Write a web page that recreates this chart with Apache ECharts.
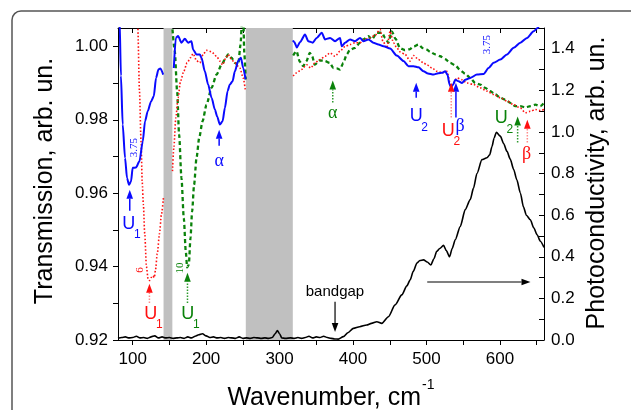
<!DOCTYPE html>
<html><head><meta charset="utf-8">
<script src="https://cdn.jsdelivr.net/npm/echarts@6/dist/echarts.min.js"></script>
<style>html,body{margin:0;padding:0;background:#fff}#c{width:631px;height:410px}</style>
</head><body><div id="c"></div>
<script>
// ---------- axis ticks / labels ----------
const xLabelVals = [100, 200, 300, 400, 500, 600];
const xTickVals = [100, 150, 200, 250, 300, 350, 400, 450, 500, 550, 600, 650];
const tLabelVals = [0.92, 0.94, 0.96, 0.98, 1.00];
const tTickVals = [0.92, 0.93, 0.94, 0.95, 0.96, 0.97, 0.98, 0.99, 1.00];
const pLabelVals = [0.0, 0.2, 0.4, 0.6, 0.8, 1.0, 1.2, 1.4];
const pTickVals = [0.0, 0.1, 0.2, 0.3, 0.4, 0.5, 0.6, 0.7, 0.8, 0.9, 1.0, 1.1, 1.2, 1.3, 1.4];

// ---------- excluded (gray) bands, cm-1 ----------
const grayBands = [[142, 154], [254, 318]];

// ---------- transmission, sample "3.75" (blue solid) ----------
const blueA = [[80,1.02],[82,1.008],[84,0.992],[86.4,0.9787],[89.6,0.9696],[92.3,0.9641],[95,0.9623],[97.7,0.9632],[100,0.9669],[104.5,0.967],[109.2,0.9687],[113.7,0.9741],[116.8,0.9796],[120.5,0.9823],[125,0.985],[128.7,0.9864],[131.8,0.9914],[135.1,0.9937],[137.8,0.994],[141.5,0.9923]];
const blueB = [[156,0.9941],[158.7,1.0023],[161.8,1.0028],[166.4,1.001],[171,1.0021],[175.5,1.001],[180,1.0014],[182.3,0.9991],[186.9,0.9978],[191.4,0.9978],[193.7,0.9969],[198.2,0.9932],[202.7,0.9896],[207.4,0.986],[211.9,0.9828],[215,0.9809],[218.7,0.9787],[222.4,0.9796],[225.5,0.9832],[229.2,0.9878],[232.3,0.9896],[236,0.9905],[239.1,0.9932],[243.6,0.996],[247.3,0.9969],[250.5,0.9941],[253.7,0.991]];
const blueC = [[318,1.0016],[320,1.0012],[323.5,0.9997],[328,1.0012],[334.6,1.0032],[339.1,1.0014],[345.1,1.001],[350.5,1.0023],[357.4,1.0037],[361.9,1.0019],[368.7,1.0023],[375.5,1.0014],[382.3,1.0023],[384.6,1.0],[389.2,1.001],[396,1.0019],[402.8,1.0014],[409.6,1.0023],[414.1,1.0014],[420.9,1.0019],[427.7,1.001],[434.6,1.0005],[441.4,1.0],[450.5,0.9994],[459.6,0.9975],[468.7,0.996],[475.5,0.9946],[482.3,0.9946],[489.1,0.9943],[495.9,0.9932],[502,0.9926],[509.6,0.9923],[516,0.9927],[521,0.9928],[525.5,0.9932],[528.6,0.9923],[531.4,0.9896],[533.5,0.9889],[536,0.9895],[539.2,0.9909],[543.7,0.9905],[548.3,0.99],[552.8,0.9909],[559.6,0.9914],[568.7,0.9923],[577.8,0.9925],[584.6,0.9941],[591.4,0.9955],[600.5,0.9964],[609.6,0.9978],[618.7,0.9996],[627.8,1.001],[636.9,1.0023],[645.9,1.0041],[651.4,1.005],[656,1.0065],[660,1.007]];

// ---------- transmission, sample "6" (red dotted) ----------
const redA = [[104,1.02],[107,1.005],[109.2,0.988],[111.4,0.974],[113,0.963],[114.5,0.957],[116.4,0.949],[118.7,0.94],[121,0.9365],[123,0.9362],[125,0.937],[127.5,0.9375],[129.5,0.937],[131,0.939],[133.5,0.9435],[136.5,0.949],[139,0.954],[142,0.959]];
const redB = [[154.2,0.966],[156,0.9723],[158.7,0.9805],[161.8,0.986],[165.1,0.9905],[169.6,0.9932],[174.1,0.9955],[178.7,0.9969],[182.3,0.998],[186.9,0.9961],[191.4,0.9955],[195.9,0.9978],[200.5,0.9989],[207.4,0.9985],[214.2,0.9973],[218.7,0.996],[222.4,0.995],[226.9,0.9969],[230,0.9978],[234.6,0.9964],[239.1,0.9955],[245.9,0.9941],[250.5,0.9914],[253.5,0.9878]];
const redC = [[318.5,0.9919],[323.3,0.9928],[330,0.9937],[336.9,0.995],[342.4,0.9941],[348.2,0.9955],[355.1,0.9964],[361.9,0.9973],[368.7,0.9982],[375.5,0.9973],[382.3,0.9987],[389.2,1.0],[396,1.0005],[402.8,1.001],[409.6,1.001],[416.4,1.0019],[423.2,1.0023],[430,1.003],[436.9,1.0046],[440.6,1.0014],[446,0.9996],[450.5,1.0041],[455,1.001],[459.6,0.9996],[464.1,0.9985],[470.9,0.9978],[477.8,0.996],[482.3,0.9975],[489.1,0.9964],[495.9,0.9955],[500.5,0.995],[507.4,0.9941],[514.2,0.9932],[521,0.9928],[527.8,0.9932],[533.2,0.9891],[536.8,0.99],[541.5,0.9914],[548.3,0.9909],[555.1,0.99],[564.1,0.9896],[573.2,0.9887],[582.3,0.9878],[591.4,0.9869],[600.5,0.986],[609.6,0.9851],[618.7,0.9841],[627.8,0.9832],[634.6,0.9819],[641.4,0.9823],[648.2,0.9828],[655,0.9825],[660,0.9828]];

// ---------- transmission, sample "10" (green dashed) ----------
const greenB = [[154.2,1.0046],[157.3,0.9987],[160.5,0.9878],[163.2,0.976],[166.4,0.9641],[169.6,0.9532],[172.3,0.9441],[174.1,0.9398],[176.4,0.9405],[178.7,0.9478],[180.9,0.955],[183.6,0.9623],[186.9,0.9696],[190.5,0.975],[195.1,0.9796],[200.5,0.9841],[207.4,0.9887],[214.2,0.9923],[221,0.995],[226.9,0.9969],[230,0.9978],[234.6,0.9969],[239.1,0.9955],[243.6,0.995],[246.9,1.0005],[248.5,1.006],[250.5,1.008],[252,0.998],[253.8,0.991]];
const greenC = [[318.5,0.9975],[323,0.9987],[327.5,0.9958],[332.1,0.9946],[336.6,0.996],[341.1,0.9982],[344.4,0.9973],[347.9,0.995],[354.7,0.9962],[361.6,0.996],[368.4,0.9955],[373.2,0.9941],[378,0.994],[382.3,0.9937],[386.8,0.9955],[391.4,0.9978],[396,0.9991],[402.8,0.9996],[409.6,1.001],[414.1,1.0019],[420.9,1.0028],[425.6,1.0019],[432.4,1.0037],[439.2,1.0037],[443.7,1.0023],[448,1.001],[452.8,1.0041],[458,1.002],[464,0.9995],[470,0.999],[477,0.9992],[483,1.0],[489,1.0005],[495,0.9995],[500.5,0.9991],[505,0.9985],[511.9,0.9978],[518.7,0.9973],[525.5,0.9965],[532.3,0.9955],[539.2,0.9948],[546,0.9935],[552.8,0.9925],[559.6,0.9914],[566.4,0.99],[573.2,0.9896],[580,0.9887],[586.9,0.9878],[593.7,0.9869],[600.5,0.986],[607.3,0.9855],[614.1,0.9846],[620.9,0.9837],[627.8,0.9837],[634.6,0.9834],[641.4,0.9837],[648.2,0.9841],[655,0.9837],[660,0.9846]];

// ---------- photoconductivity (black, right axis) ----------
const photo = [[80,0.008],[85,0.012],[90,0.015],[95,0.01],[100,0.012],[105,0.018],[110,0.01],[115,0.012],[120,0.008],[125,0.015],[130,0.02],[135,0.01],[140,0.015],[145,0.01],[150,0.012],[155,0.008],[160,0.01],[165,0.012],[170,0.008],[175,0.015],[180,0.01],[185,0.018],[190,0.025],[195,0.03],[200,0.02],[205,0.012],[210,0.015],[215,0.01],[220,0.012],[225,0.008],[230,0.012],[235,0.01],[240,0.008],[245,0.015],[250,0.008],[255,0.01],[260,0.008],[265,0.012],[270,0.01],[275,0.008],[280,0.01],[285,0.008],[290,0.012],[294,0.03],[297,0.045],[300,0.03],[303,0.01],[308,0.008],[315,0.01],[320,0.008],[325,0.012],[330,0.008],[335,0.012],[340,0.018],[345,0.01],[350,0.015],[355,0.012],[360,0.018],[365,0.012],[370,0.008],[375,0.005],[380,0.004],[386.8,0.016],[393,0.035],[400.5,0.056],[409,0.064],[418.7,0.072],[425,0.08],[432.4,0.088],[439.2,0.08],[448.2,0.112],[457.3,0.169],[466.4,0.217],[473.3,0.26],[477.8,0.289],[482,0.33],[487,0.37],[491,0.382],[496,0.385],[501,0.375],[506,0.361],[510,0.39],[514,0.426],[518,0.44],[523.2,0.455],[527,0.43],[531.4,0.4],[535,0.44],[539.2,0.482],[546,0.546],[552.8,0.627],[559.6,0.675],[564,0.73],[568.7,0.80],[575.5,0.867],[582.4,0.876],[586,0.89],[589.2,0.93],[592,0.97],[595.1,0.999],[600.5,0.98],[605,0.945],[609.6,0.907],[614,0.87],[618.7,0.82],[623,0.77],[627.8,0.707],[632,0.64],[636,0.6],[641.4,0.578],[646,0.54],[650.6,0.506],[655,0.475],[660,0.445]];

// ---------- annotations (data coords: x in cm-1, y in transmission units) ----------
// [x1, y1, x2, y2, colorKey]
const arrowDefs = [
  [96.0, 0.9552, 96.0, 0.9609, 'blue'],
  [217.7, 0.9729, 217.7, 0.9773, 'blue'],
  [486.0, 0.9860, 486.0, 0.9901, 'blue'],
  [540.1, 0.9806, 540.1, 0.9901, 'blue'],
  [122.8, 0.9301, 122.8, 0.9353, 'red'],
  [533.7, 0.9806, 533.7, 0.9901, 'red'],
  [637.3, 0.9738, 637.3, 0.9800, 'red'],
  [174.6, 0.9301, 174.6, 0.9383, 'green'],
  [372.4, 0.9847, 372.4, 0.9907, 'green'],
  [624.1, 0.9738, 624.1, 0.9809, 'green'],
  [375.5, 0.9304, 375.5, 0.9222, 'black'],
  [501.0, 0.9358, 641.6, 0.9358, 'black']
];
// [main, subscript, x, y, colorKey]
const modeLabels = [
  ['U', '1', 94.6, 0.9517, 'blue'],
  ['U', '1', 124.6, 0.9271, 'red'],
  ['U', '1', 175.0, 0.9271, 'green'],
  ['U', '2', 486.0, 0.9809, 'blue'],
  ['U', '2', 529.6, 0.9770, 'red'],
  ['U', '2', 601.9, 0.9804, 'green']
];
// [greek, x, y, colorKey]
const greekLabels = [
  ['\u03b1', 217.7, 0.9686, 'blue'],
  ['\u03b1', 372.4, 0.9819, 'green'],
  ['\u03b2', 545.9, 0.9781, 'blue'],
  ['\u03b2', 636.4, 0.9705, 'red']
];
// [text, x, y, colorKey]  (rotated sample labels)
const sampleLabels = [
  ['3.75', 101.4, 0.9724, 'blue'],
  ['3.75', 582.8, 1.0005, 'blue'],
  ['6', 109.6, 0.9391, 'red'],
  ['10', 164.2, 0.9396, 'green']
];
const noteLabels = [['bandgap', 375.4, 0.9331]];

const COLORS = { blue: '#0a0aff', red: '#ff1010', green: '#0a820a', black: '#000000' };
const SHAFT = { blue: '#0a0aff', red: '#ff8a8a', green: '#2e9a2e', black: '#000000' };

const chart = echarts.init(document.getElementById('c'), null, { renderer: 'canvas' });
const SANS = '"Liberation Sans", Arial, sans-serif';
const SERIF = '"Liberation Serif", "Times New Roman", serif';

function tSeries(data, color, width, type) {
  return {
    type: 'line', xAxisIndex: 0, yAxisIndex: 0, data: data,
    symbol: 'none', showSymbol: false, smooth: 0.25, smoothMonotone: 'x',
    lineStyle: { color: color, width: width, type: type, cap: 'butt' },
    z: 3, animation: false, silent: true, clip: true
  };
}

const series = [
  { type: 'line', xAxisIndex: 0, yAxisIndex: 0, data: [[80, 0.92]], symbol: 'none', z: 1, silent: true, animation: false,
    markArea: { silent: true, itemStyle: { color: '#c0c0c0', opacity: 1 },
      data: grayBands.map(b => [{ xAxis: b[0] }, { xAxis: b[1] }]) } },
  tSeries(greenB, COLORS.green, 2.3, [4, 3]),
  tSeries(greenC, COLORS.green, 2.3, [4, 3]),
  tSeries(redA, COLORS.red, 1.6, [1.5, 2]),
  tSeries(redB, COLORS.red, 1.6, [1.5, 2]),
  tSeries(redC, COLORS.red, 1.6, [1.5, 2]),
  tSeries(blueA, COLORS.blue, 2, 'solid'),
  tSeries(blueB, COLORS.blue, 2, 'solid'),
  tSeries(blueC, COLORS.blue, 2, 'solid'),
  { type: 'line', xAxisIndex: 0, yAxisIndex: 1, data: photo, symbol: 'none', showSymbol: false,
    smooth: 0.25, smoothMonotone: 'x', lineStyle: { color: '#000', width: 1.6 }, z: 4, animation: false, silent: true }
];

const axisLineStyle = { show: true, onZero: false, lineStyle: { color: '#000', width: 1 } };
const labelStyle = { color: '#000', fontSize: 17, fontFamily: SANS };

chart.setOption({
  animation: false,
  backgroundColor: '#fff',
  grid: { left: 118, right: 87, top: 28, bottom: 70, containLabel: false, outerBoundsMode: 'none' },
  xAxis: [
    { type: 'value', position: 'bottom', min: 80, max: 660,
      axisLine: axisLineStyle,
      axisTick: { show: true, inside: false, length: 5, customValues: xTickVals, lineStyle: { color: '#000' } },
      axisLabel: Object.assign({ customValues: xLabelVals, margin: 11, formatter: v => String(Math.round(v)) }, labelStyle),
      splitLine: { show: false } },
    { type: 'value', position: 'top', min: 80, max: 660,
      axisLine: axisLineStyle,
      axisTick: { show: true, inside: true, length: 5, customValues: xTickVals, lineStyle: { color: '#000' } },
      axisLabel: { show: false }, splitLine: { show: false } }
  ],
  yAxis: [
    { type: 'value', position: 'left', min: 0.92, max: 1.005,
      axisLine: axisLineStyle,
      axisTick: { show: true, inside: false, length: 5, customValues: tTickVals, lineStyle: { color: '#000' } },
      axisLabel: Object.assign({ customValues: tLabelVals, margin: 10, formatter: v => v.toFixed(2) }, labelStyle),
      splitLine: { show: false } },
    { type: 'value', position: 'right', min: 0, max: 1.5,
      axisLine: axisLineStyle,
      axisTick: { show: true, inside: true, length: 5, customValues: pTickVals, lineStyle: { color: '#000' } },
      axisLabel: Object.assign({ customValues: pLabelVals, margin: 7, formatter: v => v.toFixed(1) }, labelStyle),
      splitLine: { show: false } }
  ],
  series: series
});

// ---------- annotation layer ----------
const px = (x, y) => chart.convertToPixel({ xAxisIndex: 0, yAxisIndex: 0 }, [x, y]);
const g = [];

// outer frame (rounded panel border)
g.push({ type: 'rect', shape: { x: 12, y: 11, width: 700, height: 500, r: 9 }, style: { fill: 'none', stroke: '#555', lineWidth: 1.5 }, z: 0, silent: true });

arrowDefs.forEach(a => {
  const p1 = px(a[0], a[1]), p2 = px(a[2], a[3]);
  const dx = p2[0] - p1[0], dy = p2[1] - p1[1];
  const L = Math.hypot(dx, dy), ux = dx / L, uy = dy / L;
  const hl = 9, hw = 3.3;
  const bx = p2[0] - ux * hl, by = p2[1] - uy * hl;
  const dotted = a[4] === 'red' || a[4] === 'green';
  g.push({ type: 'line', shape: { x1: p1[0], y1: p1[1], x2: bx, y2: by },
    style: { stroke: SHAFT[a[4]], lineWidth: a[4] === 'black' ? 1.2 : 1.5, lineDash: dotted ? [1.5, 1.5] : null }, z: 50, silent: true });
  g.push({ type: 'polygon', shape: { points: [[p2[0], p2[1]], [bx - uy * hw, by + ux * hw], [bx + uy * hw, by - ux * hw]] },
    style: { fill: COLORS[a[4]] }, z: 50, silent: true });
});

modeLabels.forEach(m => {
  const p = px(m[2], m[3]);
  g.push({ type: 'text', x: p[0], y: p[1], style: { text: m[0], fill: COLORS[m[4]], font: '18px ' + SANS, align: 'center', verticalAlign: 'middle' }, z: 50, silent: true });
  g.push({ type: 'text', x: p[0] + 8.5, y: p[1] + 11, style: { text: m[1], fill: COLORS[m[4]], font: '12px ' + SANS, align: 'center', verticalAlign: 'middle' }, z: 50, silent: true });
});

greekLabels.forEach(m => {
  const p = px(m[1], m[2]);
  g.push({ type: 'text', x: p[0], y: p[1], style: { text: m[0], fill: COLORS[m[3]], font: '18px ' + SERIF, align: 'center', verticalAlign: 'middle' }, z: 50, silent: true });
});

sampleLabels.forEach(m => {
  const p = px(m[1], m[2]);
  g.push({ type: 'text', x: p[0], y: p[1], rotation: Math.PI / 2, style: { text: m[0], fill: COLORS[m[3]], font: '11px ' + SERIF, align: 'center', verticalAlign: 'middle' }, z: 50, silent: true });
});

noteLabels.forEach(m => {
  const p = px(m[1], m[2]);
  g.push({ type: 'text', x: p[0], y: p[1], style: { text: m[0], fill: '#000', font: '15px ' + SANS, align: 'center', verticalAlign: 'middle' }, z: 50, silent: true });
});

// axis titles
g.push({ type: 'text', x: 45, y: 181, rotation: Math.PI / 2, style: { text: 'Transmission, arb. un.', fill: '#000', font: '25px ' + SANS, align: 'center', verticalAlign: 'middle' }, z: 50, silent: true });
g.push({ type: 'text', x: 597, y: 183, rotation: Math.PI / 2, style: { text: 'Photoconductivity, arb. un.', fill: '#000', font: '25px ' + SANS, align: 'center', verticalAlign: 'middle' }, z: 50, silent: true });
g.push({ type: 'text', x: 421, y: 398, style: { text: 'Wavenumber, cm', fill: '#000', font: '25px ' + SANS, align: 'right', verticalAlign: 'middle' }, z: 50, silent: true });
g.push({ type: 'text', x: 422, y: 385, style: { text: '-1', fill: '#000', font: '14px ' + SANS, align: 'left', verticalAlign: 'middle' }, z: 50, silent: true });

chart.setOption({ graphic: { elements: g } });
</script>
</body></html>
